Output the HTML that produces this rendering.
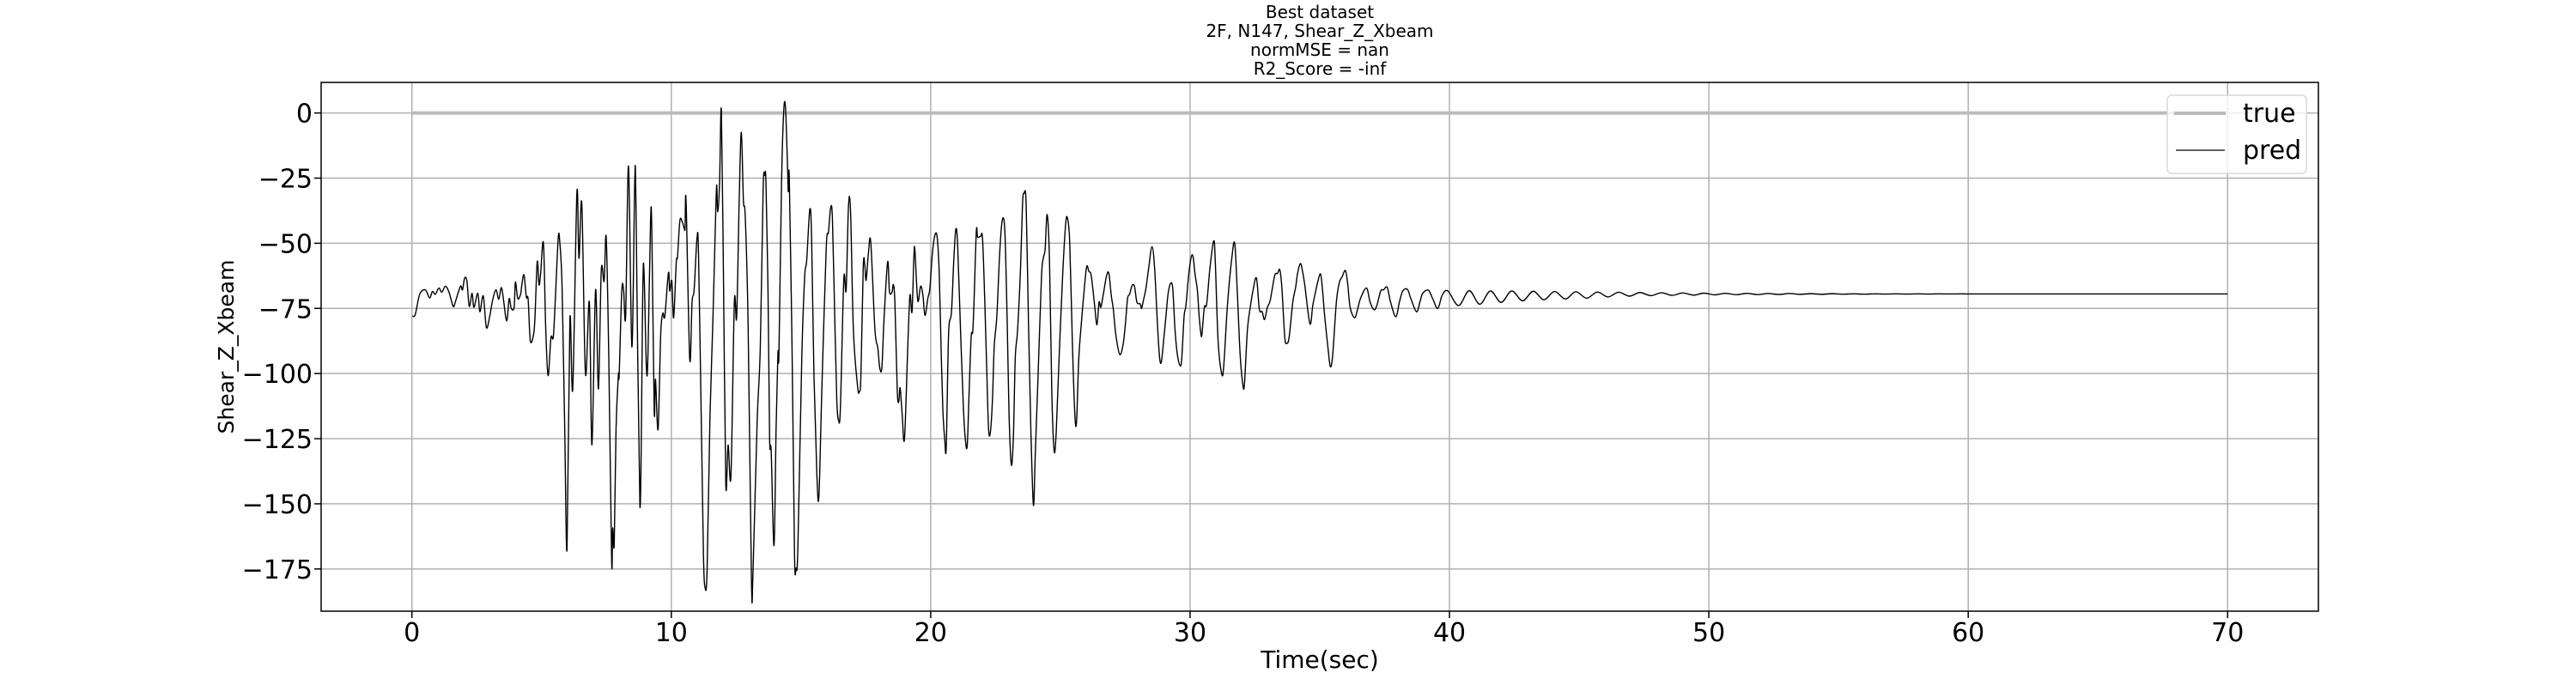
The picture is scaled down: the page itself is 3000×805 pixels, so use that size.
<!DOCTYPE html>
<html><head><meta charset="utf-8">
<style>
html,body{margin:0;padding:0;background:#fff;}
svg text{font-family:"DejaVu Sans","Liberation Sans",sans-serif;fill:#000;}
</style></head>
<body>
<svg id="chart" width="3000" height="800" viewBox="0 0 3000 800" xmlns="http://www.w3.org/2000/svg">
  <g id="title" font-size="20" text-anchor="middle">
    <text x="1537" y="21">Best dataset</text>
    <text x="1537" y="43">2F, N147, Shear_Z_Xbeam</text>
    <text x="1537" y="65">normMSE = nan</text>
    <text x="1537" y="87">R2_Score = -inf</text>
  </g>
  <g id="grid"></g>
  <g id="series"></g>
  <rect x="374" y="96" width="2326" height="616" fill="none" stroke="#000" stroke-width="1.5"/>
  <g id="xticks"></g>
  <g id="yticks"></g>
  <text x="1537" y="778" font-size="28" text-anchor="middle">Time(sec)</text>
  <text transform="translate(272,404) rotate(-90)" font-size="25" text-anchor="middle">Shear_Z_Xbeam</text>
  <g>
    <rect x="2524" y="111" width="162" height="91" rx="5" fill="#fff" fill-opacity="0.8" stroke="#d9d9d9" stroke-width="1.5"/>
    <g>
      <line x1="2532" y1="132" x2="2592" y2="132" stroke="#bbbbbb" stroke-width="4"/>
      <text x="2612" y="142" font-size="30">true</text>
    </g>
    <g>
      <line x1="2534" y1="175" x2="2591" y2="175" stroke="#000" stroke-width="1.3"/>
      <text x="2612" y="185" font-size="30">pred</text>
    </g>
  </g>
</svg>
<script>
const xTickValues = [0,10,20,30,40,50,60,70];
const yTickValues = [0,-25,-50,-75,-100,-125,-150,-175];
const trueTimes = [0,70];
const trueValues = [0,0];
const predTimes = [
0.02,0.13,0.30,0.52,0.68,0.79,0.90,1.04,1.15,1.29,1.43,1.59,1.68,1.87,1.95,2.03,2.12,2.21,2.32,2.39,2.54,2.62,2.75,2.87,3.00,3.11,3.24,3.35,3.46,3.62,3.68,3.75,3.83,3.94,3.99,4.08,4.19,4.23,4.32,4.41,4.48,4.56,4.67,4.74,4.83,4.90,4.96,5.07,5.16,5.25,5.36,5.45,5.53,5.64,5.70,5.79,5.89,5.98,6.09,6.20,6.36,6.44,6.55,6.69,6.84,6.94,7.08,7.19,7.30,7.41,7.49,7.59,7.70,7.74,7.80,7.87,7.96,7.99,8.09,8.16,8.24,8.35,8.48,8.59,8.64,8.79,8.90,8.95,9.04,9.10,9.20,9.25,9.34,9.39,9.49,9.59,9.67,9.75,9.89,9.94,
10.02,10.09,10.19,10.24,10.33,10.42,10.50,10.53,10.57,10.71,10.80,10.88,10.99,11.05,11.16,11.24,11.30,11.38,11.49,11.60,11.71,11.75,11.79,11.86,11.93,12.01,12.10,12.19,12.30,12.43,12.52,12.62,12.70,12.78,12.85,12.96,13.09,13.15,13.31,13.43,13.54,13.60,13.65,13.73,13.79,13.85,13.96,14.04,14.11,14.15,14.25,14.33,14.40,14.48,14.51,14.55,14.66,14.75,14.81,14.88,15.03,15.14,15.22,15.34,15.41,15.50,15.61,15.69,15.80,15.97,16.06,16.14,16.21,16.30,16.38,16.45,16.52,16.65,16.74,16.83,16.91,17.02,17.18,17.25,17.31,17.40,17.46,17.51,17.60,17.69,17.85,17.96,18.04,18.12,18.20,18.34,18.41,18.51,18.56,18.62,18.71,18.77,18.82,18.90,18.99,19.12,19.20,19.28,19.35,19.39,19.50,19.61,19.70,19.78,19.89,19.97,20.06,
20.16,20.25,20.33,20.41,20.47,20.54,20.60,20.69,20.80,20.89,20.97,21.04,21.15,21.26,21.34,21.41,21.48,21.56,21.62,21.67,21.76,21.81,21.92,22.00,22.09,22.16,22.23,22.30,22.38,22.45,22.55,22.66,22.76,22.86,22.95,23.02,23.11,23.19,23.26,23.35,23.46,23.54,23.60,23.68,23.77,23.86,23.96,24.03,24.14,24.27,24.34,24.41,24.49,24.58,24.67,24.76,24.84,24.95,25.09,25.20,25.27,25.36,25.46,25.55,25.62,25.71,25.82,25.90,26.01,26.10,26.19,26.32,26.41,26.49,26.56,26.65,26.78,26.87,26.96,27.04,27.14,27.29,27.42,27.51,27.59,27.67,27.77,27.86,27.95,28.08,28.13,28.21,28.30,28.41,28.53,28.63,28.74,28.82,28.89,28.98,29.07,29.15,29.24,29.33,29.42,29.51,29.62,29.68,29.77,29.84,29.95,30.05,30.12,30.19,
30.28,30.35,30.42,30.46,30.55,30.64,30.77,30.91,30.97,31.08,31.22,31.30,31.44,31.60,31.72,31.82,31.93,32.04,32.10,32.21,32.32,32.43,32.56,32.67,32.78,32.87,32.98,33.09,33.26,33.37,33.46,33.54,33.65,33.73,33.82,33.96,34.07,34.14,34.25,34.33,34.42,34.62,34.73,34.84,34.93,35.03,35.10,35.19,35.33,35.41,35.50,35.64,35.75,35.86,35.99,36.08,36.17,36.34,36.46,36.57,36.80,36.94,37.09,37.20,37.35,37.46,37.60,37.73,37.93,38.07,38.20,38.38,38.51,38.73,38.86,38.97,39.19,39.35,39.55,39.72,39.94,
40.35,40.76,41.17,41.58,41.99,42.40,42.82,43.23,43.64,44.05,44.47,44.87,45.29,45.70,46.11,46.52,46.94,47.34,47.76,48.17,48.58,48.99,49.41,49.81,50.23,50.64,51.05,51.46,51.88,52.28,52.70,53.11,53.52,53.93,54.35,54.75,55.17,55.58,55.99,56.40,56.82,57.22,57.64,58.05,58.46,58.87,59.29,59.70,60.11,60.52,60.94,61.35,61.76,62.5,65.0,70.0];
const predValues = [
-78.0,-77.3,-69.6,-67.9,-71.0,-68.5,-69.6,-67.2,-68.8,-66.5,-68.8,-74.2,-72.3,-66.5,-67.9,-63.4,-64.5,-74.2,-69.2,-74.6,-69.2,-76.3,-70.2,-82.3,-78.0,-71.9,-67.9,-71.5,-67.2,-78.6,-78.6,-71.2,-75.0,-74.6,-64.9,-71.2,-69.6,-66.5,-62.1,-70.6,-71.5,-87.1,-86.0,-79.3,-57.1,-65.9,-61.8,-50.0,-83.3,-100.8,-86.3,-86.0,-71.2,-48.1,-49.5,-67.2,-121.0,-167.3,-79.3,-105.9,-30.6,-55.8,-34.9,-100.1,-72.6,-127.4,-67.9,-105.9,-60.5,-64.5,-47.7,-94.1,-172.0,-159.3,-165.3,-121.0,-100.5,-100.5,-68.3,-67.9,-77.7,-20.4,-89.8,-26.6,-36.3,-151.2,-68.5,-61.6,-97.8,-92.7,-41.4,-45.7,-114.2,-102.2,-121.4,-85.3,-76.9,-78.0,-61.3,-68.3,
-64.5,-78.6,-57.5,-55.1,-41.4,-41.7,-44.4,-44.1,-33.9,-94.4,-72.6,-67.9,-48.1,-54.4,-121.0,-170.0,-182.1,-175.4,-116.9,-80.6,-39.0,-27.6,-37.9,-26.9,1.1,-61.8,-142.2,-127.4,-139.1,-72.8,-78.2,-32.3,-7.4,-33.6,-39.7,-80.6,-179.4,-176.1,-118.3,-90.1,-29.6,-23.9,-26.9,-69.9,-125.0,-129.7,-166.0,-121.0,-92.1,-92.1,-26.9,0.0,2.4,-20.2,-30.2,-25.5,-94.1,-169.4,-174.7,-166.7,-94.1,-63.2,-56.5,-37.0,-48.4,-100.8,-138.4,-147.2,-107.5,-52.4,-45.7,-36.6,-40.3,-78.0,-110.2,-118.0,-112.9,-63.8,-67.9,-36.0,-37.6,-83.3,-104.8,-106.9,-100.8,-58.9,-58.5,-64.2,-53.8,-49.7,-83.1,-90.1,-98.1,-97.4,-79.3,-57.1,-68.5,-68.8,-65.9,-72.6,-106.2,-110.9,-105.5,-115.6,-125.0,-88.7,-69.9,-76.3,-55.8,-52.4,-71.9,-66.5,-69.9,-77.7,-71.2,-67.2,-54.4,
-47.0,-47.7,-61.8,-94.1,-114.2,-125.0,-128.0,-84.7,-76.6,-56.5,-44.6,-51.1,-83.3,-112.9,-125.7,-127.4,-107.5,-86.0,-84.0,-72.6,-45.4,-47.7,-47.4,-48.4,-73.9,-98.1,-121.0,-122.6,-110.2,-89.4,-78.0,-53.8,-41.1,-45.7,-80.6,-115.6,-135.1,-123.7,-94.1,-83.3,-60.5,-34.9,-30.9,-34.9,-80.6,-121.0,-150.5,-131.7,-100.8,-63.2,-55.8,-52.4,-39.0,-56.5,-107.5,-129.7,-122.3,-94.1,-61.8,-43.0,-40.3,-49.7,-87.4,-114.2,-118.9,-94.1,-79.3,-69.9,-59.1,-60.8,-62.5,-73.9,-81.3,-72.6,-74.6,-69.9,-62.5,-61.6,-69.9,-75.3,-85.3,-92.7,-88.7,-80.6,-71.2,-69.5,-66.1,-66.7,-72.6,-73.3,-75.0,-71.5,-67.2,-59.1,-51.3,-59.1,-80.6,-93.4,-95.7,-87.4,-78.0,-69.6,-65.6,-67.2,-83.3,-92.7,-97.0,-94.1,-78.0,-73.9,-61.8,-55.1,-55.4,-61.8,
-67.9,-78.0,-84.9,-84.7,-74.6,-73.3,-59.1,-49.1,-56.5,-87.4,-100.1,-96.8,-73.9,-56.5,-50.0,-68.5,-92.7,-104.6,-103.5,-83.3,-74.6,-67.9,-63.4,-75.3,-76.3,-79.3,-74.6,-71.9,-62.5,-61.6,-60.2,-67.2,-86.0,-88.4,-86.0,-72.6,-66.9,-61.8,-57.8,-60.5,-65.9,-80.9,-73.9,-68.5,-64.5,-61.8,-67.2,-78.0,-91.4,-97.4,-92.7,-72.6,-65.2,-62.9,-60.5,-65.9,-74.6,-78.6,-75.3,-71.2,-67.2,-72.6,-75.5,-73.9,-68.3,-67.9,-66.9,-72.6,-78.2,-72.6,-68.3,-67.7,-71.2,-76.3,-72.6,-69.2,-68.0,-71.2,-75.0,-69.9,-68.3,
-73.9,-68.2,-73.4,-68.3,-72.7,-68.3,-72.1,-68.4,-71.7,-68.5,-71.4,-68.6,-71.1,-68.7,-70.6,-68.8,-70.3,-68.9,-70.1,-69.0,-70.0,-69.1,-69.9,-69.15,-69.8,-69.2,-69.75,-69.25,-69.7,-69.3,-69.65,-69.3,-69.6,-69.35,-69.6,-69.35,-69.55,-69.4,-69.55,-69.4,-69.5,-69.4,-69.5,-69.4,-69.48,-69.42,-69.47,-69.43,-69.46,-69.44,-69.45,-69.44,-69.45,-69.45,-69.45,-69.45];

const X0 = 374, X1 = 2700, Y0 = 96, Y1 = 712;
const xMin = -3.5, xMax = 73.5, yMax = 11.73, yMin = -191.2;
function xs(t){ return X0 + (t - xMin) / (xMax - xMin) * (X1 - X0); }
function ys(v){ return Y0 + (yMax - v) / (yMax - yMin) * (Y1 - Y0); }
const NS = "http://www.w3.org/2000/svg";
const grid = document.getElementById('grid');
const xg = document.getElementById('xticks');
const yg = document.getElementById('yticks');
const series = document.getElementById('series');

xTickValues.forEach(function(v){
  const x = xs(v);
  const gl = document.createElementNS(NS,'line');
  gl.setAttribute('x1',x); gl.setAttribute('x2',x); gl.setAttribute('y1',Y0); gl.setAttribute('y2',Y1);
  gl.setAttribute('stroke','#b0b0b0'); gl.setAttribute('stroke-width','1.5');
  
  
  grid.appendChild(gl);
  const tk = document.createElementNS(NS,'line');
  tk.setAttribute('x1',x); tk.setAttribute('x2',x); tk.setAttribute('y1',Y1); tk.setAttribute('y2',Y1+8);
  tk.setAttribute('stroke','#000'); tk.setAttribute('stroke-width','1.5');
  
  
  xg.appendChild(tk);
  const tx = document.createElementNS(NS,'text');
  tx.setAttribute('x',x); tx.setAttribute('y',747); tx.setAttribute('font-size','30'); tx.setAttribute('text-anchor','middle');
  tx.textContent = String(v);
  
  
  xg.appendChild(tx);
});
yTickValues.forEach(function(v){
  const y = ys(v);
  const gl = document.createElementNS(NS,'line');
  gl.setAttribute('x1',X0); gl.setAttribute('x2',X1); gl.setAttribute('y1',y); gl.setAttribute('y2',y);
  gl.setAttribute('stroke','#b0b0b0'); gl.setAttribute('stroke-width','1.5');
  
  
  grid.appendChild(gl);
  const tk = document.createElementNS(NS,'line');
  tk.setAttribute('x1',X0-8); tk.setAttribute('x2',X0); tk.setAttribute('y1',y); tk.setAttribute('y2',y);
  tk.setAttribute('stroke','#000'); tk.setAttribute('stroke-width','1.5');
  
  
  yg.appendChild(tk);
  const tx = document.createElementNS(NS,'text');
  tx.setAttribute('x',364); tx.setAttribute('y',y+11); tx.setAttribute('font-size','30'); tx.setAttribute('text-anchor','end');
  tx.textContent = v < 0 ? '\u2212' + Math.abs(v) : String(v);
  
  
  yg.appendChild(tx);
});

function smoothPath(ts, vs){
  const p = ts.map(function(t,i){ return [xs(t), ys(vs[i])]; });
  let d = 'M' + p[0][0].toFixed(2) + ',' + p[0][1].toFixed(2);
  for (let i = 0; i < p.length - 1; i++){
    const a = p[Math.max(i-1,0)], b = p[i], c = p[i+1], e = p[Math.min(i+2,p.length-1)];
    const c1x = b[0] + (c[0]-a[0])/6, c1y = b[1] + (c[1]-a[1])/6;
    const c2x = c[0] - (e[0]-b[0])/6, c2y = c[1] - (e[1]-b[1])/6;
    d += 'C' + c1x.toFixed(2) + ',' + c1y.toFixed(2) + ' ' + c2x.toFixed(2) + ',' + c2y.toFixed(2) + ' ' + c[0].toFixed(2) + ',' + c[1].toFixed(2);
  }
  return d;
}

const trueLine = document.createElementNS(NS,'path');
trueLine.setAttribute('d', 'M' + xs(trueTimes[0]) + ',' + ys(trueValues[0]) + 'L' + xs(trueTimes[1]) + ',' + ys(trueValues[1]));
trueLine.setAttribute('stroke','#bbbbbb'); trueLine.setAttribute('stroke-width','4'); trueLine.setAttribute('fill','none');


series.appendChild(trueLine);

const predLine = document.createElementNS(NS,'path');
predLine.setAttribute('d', smoothPath(predTimes, predValues));
predLine.setAttribute('stroke','#000'); predLine.setAttribute('stroke-width','1.4'); predLine.setAttribute('fill','none');
predLine.setAttribute('stroke-linejoin','round');


series.appendChild(predLine);
</script>
</body></html>
